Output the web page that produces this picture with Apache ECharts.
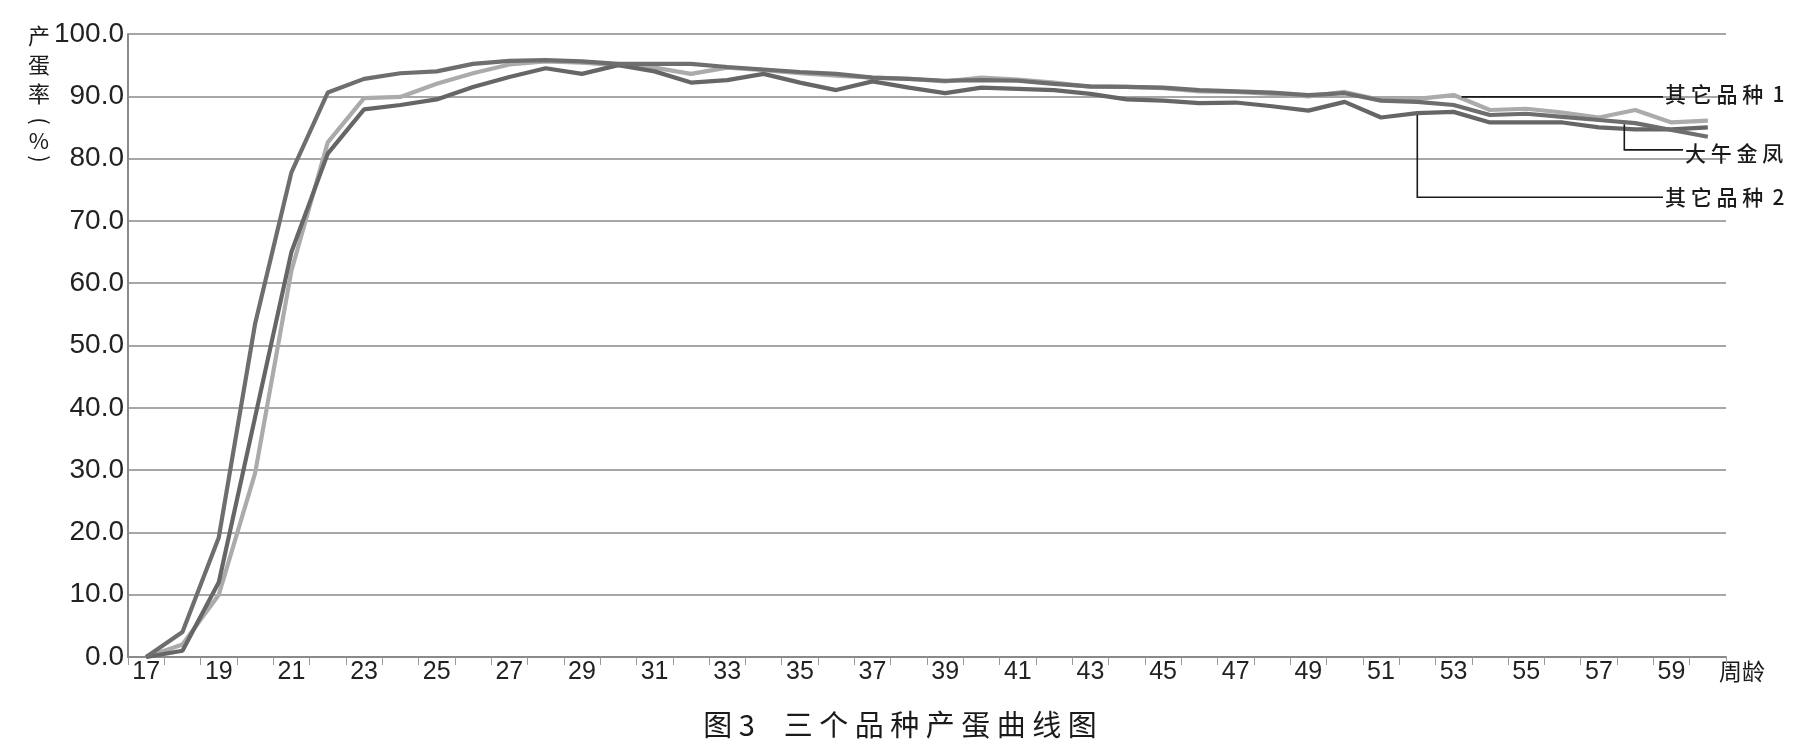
<!DOCTYPE html>
<html><head><meta charset="utf-8">
<script src="https://cdn.jsdelivr.net/npm/echarts@6/dist/echarts.min.js"></script>
<style>html,body{margin:0;padding:0;background:#fff}#c{width:1799px;height:751px}</style>
</head><body><div id="c"></div>
<script>
const weeks = ['17','18','19','20','21','22','23','24','25','26','27','28','29','30','31','32','33','34','35','36','37','38','39','40','41','42','43','44','45','46','47','48','49','50','51','52','53','54','55','56','57','58','59','60'];
// 大午金凤
const dawu = [0,4.0,19.2,53.5,77.8,90.6,92.8,93.7,94.0,95.2,95.7,95.8,95.6,95.2,95.2,95.2,94.7,94.3,93.9,93.6,93.0,92.8,92.5,92.6,92.5,92.0,91.6,91.5,91.4,91.0,90.8,90.6,90.2,90.5,89.3,89.1,88.6,87.0,87.2,86.7,86.2,85.7,84.6,83.5];
// 其它品种 2
const other2 = [0,1.0,12.0,38.5,65.0,80.8,87.9,88.6,89.5,91.5,93.1,94.5,93.6,95.0,94.0,92.2,92.6,93.6,92.2,91.0,92.4,91.4,90.5,91.4,91.2,91.0,90.4,89.5,89.3,88.9,89.0,88.4,87.7,89.1,86.6,87.3,87.5,85.8,85.8,85.8,85.0,84.7,84.7,85.0];
// 其它品种 1
const other1 = [0,2.0,10.0,29.5,62.0,82.6,89.7,89.9,92.0,93.7,95.1,95.6,95.4,95.0,94.6,93.6,94.6,94.2,93.7,93.3,93.0,92.8,92.4,93.0,92.7,92.2,91.5,91.5,91.3,90.8,90.7,90.4,90.0,90.7,89.4,89.6,90.2,87.8,88.0,87.4,86.6,87.8,85.8,86.1];

const CJK = '"Noto Sans CJK SC", sans-serif';
const LAT = '"Liberation Sans", Arial, sans-serif';

const chart = echarts.init(document.getElementById('c'));
function line(name, data, color, z) {
  return {name, type:'line', data, symbol:'none', smooth:false, z,
    lineStyle:{color, width:4.2}, emphasis:{disabled:true}};
}
chart.setOption({
  animation:false,
  grid:{left:128,right:73,top:34,bottom:94},
  xAxis:{type:'category',data:weeks,boundaryGap:true,
    axisLine:{lineStyle:{color:'#8a8a8a',width:2}},
    axisTick:{show:true,interval:0,length:8,lineStyle:{color:'#9a9a9a',width:1}},
    axisLabel:{interval:1,color:'#222',fontSize:25,fontFamily:LAT,margin:3},
    splitLine:{show:false}},
  yAxis:{type:'value',min:0,max:100,interval:10,
    axisLine:{show:true,lineStyle:{color:'#8a8a8a',width:2}},
    axisTick:{show:false},
    axisLabel:{formatter:v=>v.toFixed(1),color:'#222',fontSize:28,fontFamily:LAT,margin:4},
    splitLine:{lineStyle:{color:'#8a8a8a',width:1.5}}},
  series:[
    line('其它品种 1', other1, '#ababab', 2),
    line('其它品种 2', other2, '#666666', 3),
    line('大午金凤', dawu, '#6e6e6e', 4)
  ]
});

// annotation leader lines (positions derived through the chart's scales)
const idx = w => weeks.indexOf(String(w));
const px = (w, v) => chart.convertToPixel({gridIndex:0}, [idx(w), v]);
const yOf = v => chart.convertToPixel({gridIndex:0}, [0, v])[1];
const textX = 1663;

const p1 = px(53, 89.9);
const a57 = px(57, dawu[idx(57)]), a58 = px(58, dawu[idx(58)]);
const fx = a57[0] + 0.7*(a58[0]-a57[0]);
const fy = a57[1] + 0.7*(a58[1]-a57[1]);
const yDa = yOf(81.4);
const p2 = px(52, other2[idx(52)]);
const y2 = yOf(73.8);

const lineStyle = {stroke:'#1a1a1a', lineWidth:1.6};
const txt = (x, y, text, size, align, weight) => ({type:'text', x, y, style:{text, fill:'#1a1a1a', font:`${weight||'normal'} ${size}px ${CJK}`, textAlign:align||'left', textVerticalAlign:'middle'}});
const ctxt = (x, y, text, size, rot) => ({type:'text', x, y, rotation:rot||0, style:{text, fill:'#1a1a1a', font:`${size}px ${CJK}`, textAlign:'center', textVerticalAlign:'middle'}});

chart.setOption({graphic:[
  {type:'polyline', shape:{points:[[p1[0]+8,p1[1]],[textX,p1[1]]]}, style:lineStyle, z:10},
  txt(textX+2, p1[1]-3, '其 它 品 种  1', 21, 'left', 500),
  {type:'polyline', shape:{points:[[fx,fy+2],[fx,yDa],[textX+20,yDa]]}, style:lineStyle, z:10},
  txt(textX+22, yDa+3, '大 午 金 凤', 21, 'left', 500),
  {type:'polyline', shape:{points:[[p2[0],p2[1]+2],[p2[0],y2],[textX,y2]]}, style:lineStyle, z:10},
  txt(textX+2, y2, '其 它 品 种  2', 21, 'left', 500),
  txt(1719, 671, '周龄', 23),
  ctxt(39, 36, '产', 22),
  ctxt(39, 65, '蛋', 22),
  ctxt(39, 94, '率', 22),
  ctxt(40, 121, '(', 22, -Math.PI/2),
  ctxt(39, 141, '%', 22),
  ctxt(40, 159, ')', 22, -Math.PI/2),
  txt(900, 725, '图 3　三 个 品 种 产 蛋 曲 线 图', 29, 'center')
]});
</script></body></html>
